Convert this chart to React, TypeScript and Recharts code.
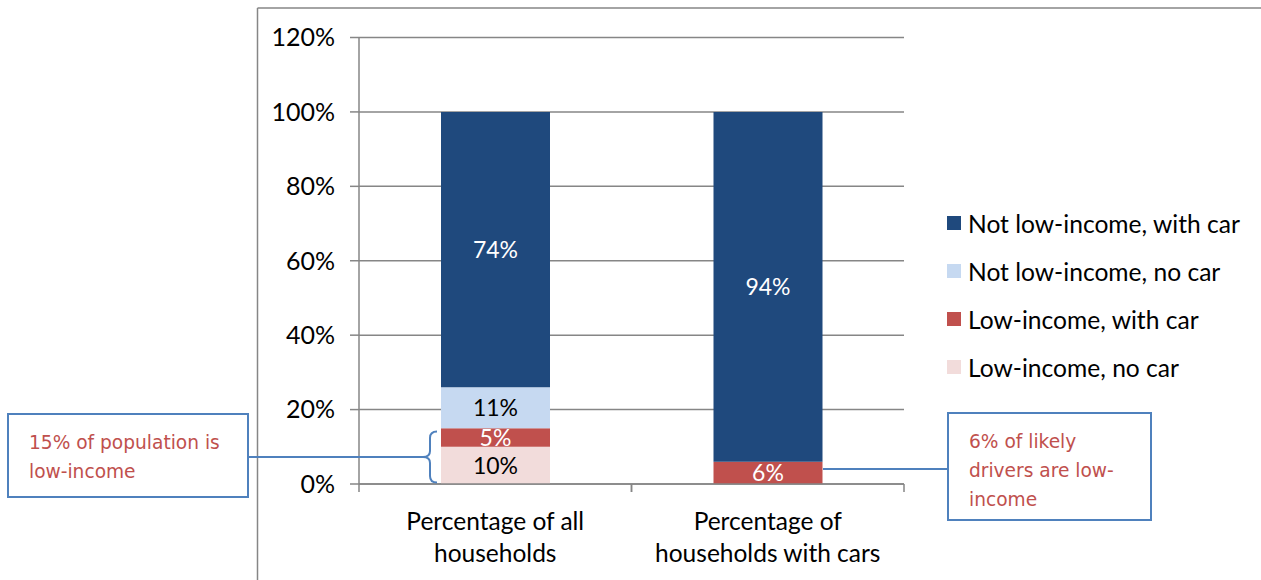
import React from 'react';
import { BarChart, Bar, XAxis, YAxis, CartesianGrid, Legend, LabelList } from 'recharts';

const categories = ['Percentage of all households', 'Percentage of households with cars'];
const categoryLines = [
  ['Percentage of all', 'households'],
  ['Percentage of', 'households with cars'],
];
const lowIncomeNoCar = [10, 0];
const lowIncomeWithCar = [5, 6];
const notLowIncomeNoCar = [11, 0];
const notLowIncomeWithCar = [74, 94];
const yTicks = [0, 20, 40, 60, 80, 100, 120];

const seriesKeys = ['lowNoCar', 'lowWithCar', 'notLowNoCar', 'notLowWithCar'];
const seriesNames = ['Low-income, no car', 'Low-income, with car', 'Not low-income, no car', 'Not low-income, with car'];
const seriesColors = ['#F2DCDB', '#C0504D', '#C6D9F1', '#1F497D'];
const labelColors = ['#000000', '#FFFFFF', '#000000', '#FFFFFF'];

const leftNoteLines = ['15% of population is', 'low-income'];
const rightNoteLines = ['6% of likely', 'drivers are low-', 'income'];

const data = categories.map((c, i) => ({
  category: c,
  lowNoCar: lowIncomeNoCar[i],
  lowWithCar: lowIncomeWithCar[i],
  notLowNoCar: notLowIncomeNoCar[i],
  notLowWithCar: notLowIncomeWithCar[i],
}));

const FONT = 'Lato, "DejaVu Sans", sans-serif';
const NOTE_FONT = '"DejaVu Sans", "Open Sans", sans-serif';
const GREY = '#868686';
const BLUE_LINE = '#4F81BD';
const NOTE_RED = '#C0504D';
const LEGEND_W = 310;

const CategoryTick = (props: any) => {
  const { x, y, payload } = props;
  const idx = payload && typeof payload.index === 'number' ? payload.index : props.index;
  const lines = categoryLines[idx] || [String(payload.value)];
  const half = 136.25;
  return (
    <g>
      <line x1={x - half} x2={x - half} y1={y - 8} y2={y} stroke={GREY} strokeWidth={1.5} />
      <line x1={x + half} x2={x + half} y1={y - 8} y2={y} stroke={GREY} strokeWidth={1.5} />
      {lines.map((l: string, i: number) => (
        <text key={i} x={x} y={y + 28 + i * 32} textAnchor="middle" dominantBaseline="central"
          fontFamily={FONT} fontSize={24.5} fill="#000">{l}</text>
      ))}
    </g>
  );
};

const LegendContent = () => {
  const order = [3, 2, 1, 0];
  return (
    <div style={{ fontFamily: FONT, fontSize: 24.6, color: '#000', width: LEGEND_W }}>
      {order.map((i) => (
        <div key={i} style={{ display: 'flex', alignItems: 'center', height: 48 }}>
          <span style={{ display: 'inline-block', width: 14, height: 14, background: seriesColors[i], marginRight: 7 }} />
          <span style={{ whiteSpace: 'nowrap' }}>{seriesNames[i]}</span>
        </div>
      ))}
    </div>
  );
};

export default function App() {
  return (
    <div style={{ position: 'absolute', left: 0, top: 0, width: 1261, height: 580, background: '#fff' }}>
      <BarChart width={1261} height={580} data={data}
        margin={{ top: 37.5, right: 357 - LEGEND_W, bottom: 0, left: 0 }} barSize={109}>
        <CartesianGrid vertical={false} stroke={GREY} strokeWidth={1.5} />
        <XAxis dataKey="category" height={96} tick={<CategoryTick />} tickLine={false}
          tickSize={8} tickMargin={0} axisLine={{ stroke: GREY, strokeWidth: 1.5 }} interval={0} />
        <YAxis width={359} domain={[0, 120]} ticks={yTicks} interval={0}
          tickFormatter={(v: number) => `${v}%`} tickSize={9} tickMargin={15}
          axisLine={{ stroke: GREY, strokeWidth: 1.5 }} tickLine={{ stroke: GREY, strokeWidth: 1.5 }}
          tick={{ fill: '#000', fontSize: 25, fontFamily: FONT }} />
        <Legend layout="horizontal" verticalAlign="middle" align="right" content={<LegendContent />}
          wrapperStyle={{ left: 947, right: 'auto', top: 199, width: LEGEND_W, height: 'auto' }} />
        {seriesKeys.map((k, i) => (
          <Bar key={k} dataKey={k} name={seriesNames[i]} stackId="a" fill={seriesColors[i]} isAnimationActive={false}>
            <LabelList dataKey={k} position="center" fill={labelColors[i]} fontSize={23} fontFamily={FONT}
              formatter={(v: any) => (v ? `${v}%` : '')} />
          </Bar>
        ))}
      </BarChart>
      <svg width={1261} height={580} style={{ position: 'absolute', left: 0, top: 0, pointerEvents: 'none' }}>
        <line x1={257.5} y1={8} x2={1261} y2={8} stroke={GREY} strokeWidth={1.5} />
        <line x1={257.5} y1={8} x2={257.5} y2={580} stroke={GREY} strokeWidth={1.5} />
        <line x1={249} y1={457} x2={423} y2={457} stroke={BLUE_LINE} strokeWidth={2} />
        <path d="M437,431.5 Q430,431.5 430,438 L430,451 Q430,457 423,457 Q430,457 430,463 L430,476 Q430,482.5 437,482.5"
          fill="none" stroke={BLUE_LINE} strokeWidth={2} />
        <line x1={823} y1={469} x2={947} y2={469} stroke={BLUE_LINE} strokeWidth={2} />
      </svg>
      <div style={{ position: 'absolute', left: 7, top: 413, width: 242, height: 85, border: `2px solid ${BLUE_LINE}`,
        background: '#fff', fontFamily: NOTE_FONT, fontSize: 18.6, color: NOTE_RED, lineHeight: '28.5px',
        paddingTop: 14, paddingLeft: 20, boxSizing: 'border-box' }}>
        {leftNoteLines.map((l, i) => <div key={i} style={{ whiteSpace: 'nowrap' }}>{l}</div>)}
      </div>
      <div style={{ position: 'absolute', left: 947, top: 412, width: 205, height: 109, border: `2px solid ${BLUE_LINE}`,
        background: '#fff', fontFamily: NOTE_FONT, fontSize: 18.6, color: NOTE_RED, lineHeight: '29px',
        paddingTop: 13, paddingLeft: 20, boxSizing: 'border-box' }}>
        {rightNoteLines.map((l, i) => <div key={i} style={{ whiteSpace: 'nowrap' }}>{l}</div>)}
      </div>
    </div>
  );
}
